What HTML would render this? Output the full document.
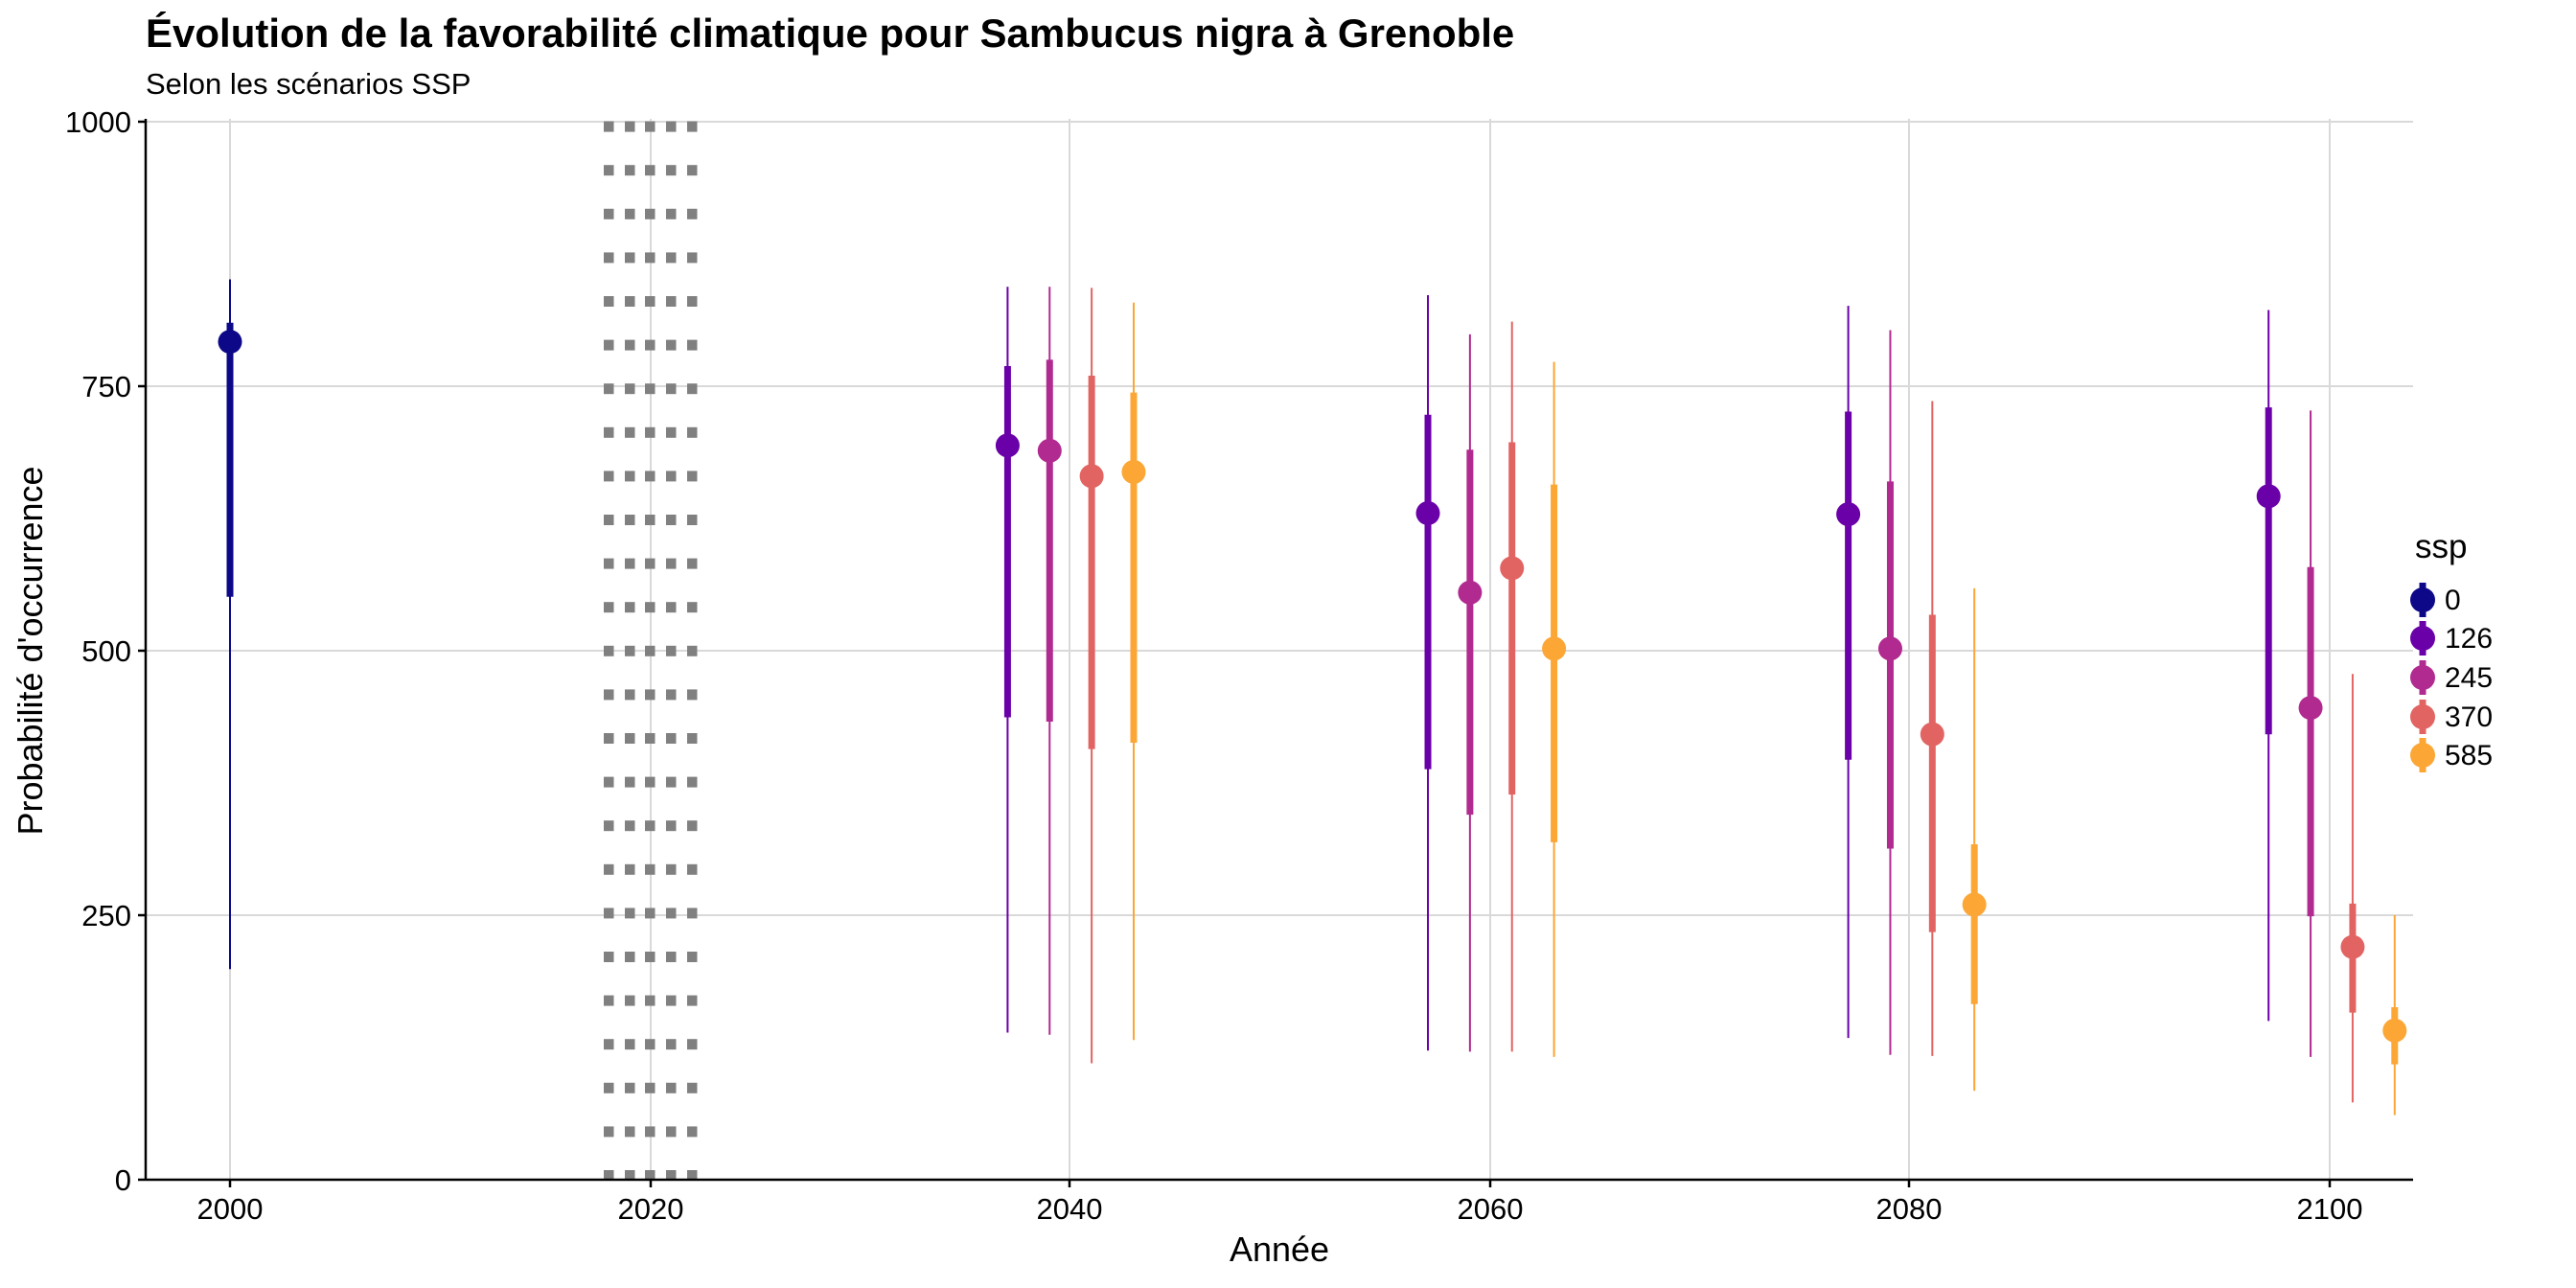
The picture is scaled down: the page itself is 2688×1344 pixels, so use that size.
<!DOCTYPE html>
<html><head><meta charset="utf-8"><style>
html,body{margin:0;padding:0;background:#fff}
svg{display:block}
text{font-family:"Liberation Sans",sans-serif}
</style></head><body>
<svg id="s" width="2688" height="1344" viewBox="0 0 2688 1344" xmlns="http://www.w3.org/2000/svg">
<rect width="2688" height="1344" fill="#fff"/>
<g stroke="#d9d9d9" stroke-width="2">
<line x1="152" x2="2518" y1="127" y2="127"/><line x1="152" x2="2518" y1="403" y2="403"/>
<line x1="152" x2="2518" y1="679" y2="679"/><line x1="152" x2="2518" y1="955" y2="955"/>
<line x1="240" x2="240" y1="124" y2="1231"/><line x1="679" x2="679" y1="124" y2="1231"/>
<line x1="1116" x2="1116" y1="124" y2="1231"/><line x1="1555" x2="1555" y1="124" y2="1231"/>
<line x1="1992" x2="1992" y1="124" y2="1231"/><line x1="2431" x2="2431" y1="124" y2="1231"/>
</g>
<g id="dots" fill="#808080"></g>
<g id="data"></g>
<g stroke="#000" stroke-width="2.5">
<line x1="152" x2="152" y1="124" y2="1232"/><line x1="152" x2="2518" y1="1231" y2="1231"/>
<line x1="144" x2="152" y1="127" y2="127"/><line x1="144" x2="152" y1="403" y2="403"/>
<line x1="144" x2="152" y1="679" y2="679"/><line x1="144" x2="152" y1="955" y2="955"/>
<line x1="144" x2="152" y1="1231" y2="1231"/>
<line x1="240" x2="240" y1="1231" y2="1239"/><line x1="679" x2="679" y1="1231" y2="1239"/>
<line x1="1116" x2="1116" y1="1231" y2="1239"/><line x1="1555" x2="1555" y1="1231" y2="1239"/>
<line x1="1992" x2="1992" y1="1231" y2="1239"/><line x1="2431" x2="2431" y1="1231" y2="1239"/>
</g>
<g font-size="31" fill="#000" text-anchor="end">
<text x="137" y="138">1000</text><text x="137" y="414">750</text><text x="137" y="690">500</text>
<text x="137" y="966">250</text><text x="137" y="1242">0</text>
</g>
<g font-size="31" fill="#000" text-anchor="middle">
<text x="240" y="1272">2000</text><text x="679" y="1272">2020</text><text x="1116" y="1272">2040</text>
<text x="1555" y="1272">2060</text><text x="1992" y="1272">2080</text><text x="2431" y="1272">2100</text>
</g>
<text x="1335" y="1316" font-size="36" text-anchor="middle">Année</text>
<text transform="translate(44,679) rotate(-90)" font-size="36" text-anchor="middle">Probabilité d'occurrence</text>
<text x="152" y="49" font-size="42" font-weight="bold">Évolution de la favorabilité climatique pour Sambucus nigra à Grenoble</text>
<text x="152" y="98" font-size="31">Selon les scénarios SSP</text>
<text x="2520" y="582" font-size="35">ssp</text>
<g id="leg"></g>
<g font-size="30">
<text x="2551" y="636">0</text><text x="2551" y="676">126</text><text x="2551" y="717">245</text>
<text x="2551" y="758">370</text><text x="2551" y="798">585</text>
</g>
</svg>
<script>
var NS="http://www.w3.org/2000/svg";
function el(p,t,a){var e=document.createElementNS(NS,t);for(var k in a)e.setAttribute(k,a[k]);p.appendChild(e);return e;}
var X=function(y){return 240+(y-2000)*21.93;}, Y=function(v){return 1231-v*1.104;};
var dots=document.getElementById('dots');
var cols=[630,652,673,695,717];
for(var i=0;i<25;i++){var yb=1232-i*45.6;cols.forEach(function(c){el(dots,'rect',{x:c,y:yb-11,width:10.5,height:11});});}
var C={0:"#0D0887",126:"#6A00A8",245:"#B12A90",370:"#E16462",585:"#FCA636"};
var D=[[2000,0,792,551,810,199,851],
[2037,126,694,437,769,139,844],[2039,245,689,433,775,137,844],[2041,370,665,407,760,110,843],[2043,585,669,413,744,132,829],
[2057,126,630,388,723,122,836],[2059,245,555,345,690,121,799],[2061,370,578,364,697,121,811],[2063,585,502,319,657,116,773],
[2077,126,629,397,726,134,826],[2079,245,502,313,660,118,803],[2081,370,421,234,534,117,736],[2083,585,260,166,317,84,559],
[2097,126,646,421,730,150,822],[2099,245,446,249,579,116,727],[2101,370,220,158,261,73,478],[2103,585,141,109,163,61,250]];
var g=document.getElementById('data');
D.forEach(function(d){var x=X(d[0]),c=C[d[1]];
el(g,'line',{x1:x,x2:x,y1:Y(d[5]),y2:Y(d[6]),stroke:c,'stroke-width':2});
el(g,'line',{x1:x,x2:x,y1:Y(d[3]),y2:Y(d[4]),stroke:c,'stroke-width':7});
el(g,'circle',{cx:x,cy:Y(d[2]),r:12.5,fill:c});});
var lg=document.getElementById('leg');
[[0,626],[126,666],[245,707],[370,748],[585,788]].forEach(function(d){var c=C[d[0]];
el(lg,'line',{x1:2528,x2:2528,y1:d[1]-18,y2:d[1]+18,stroke:c,'stroke-width':7});
el(lg,'circle',{cx:2528,cy:d[1],r:13,fill:c});});
</script>
</body></html>
